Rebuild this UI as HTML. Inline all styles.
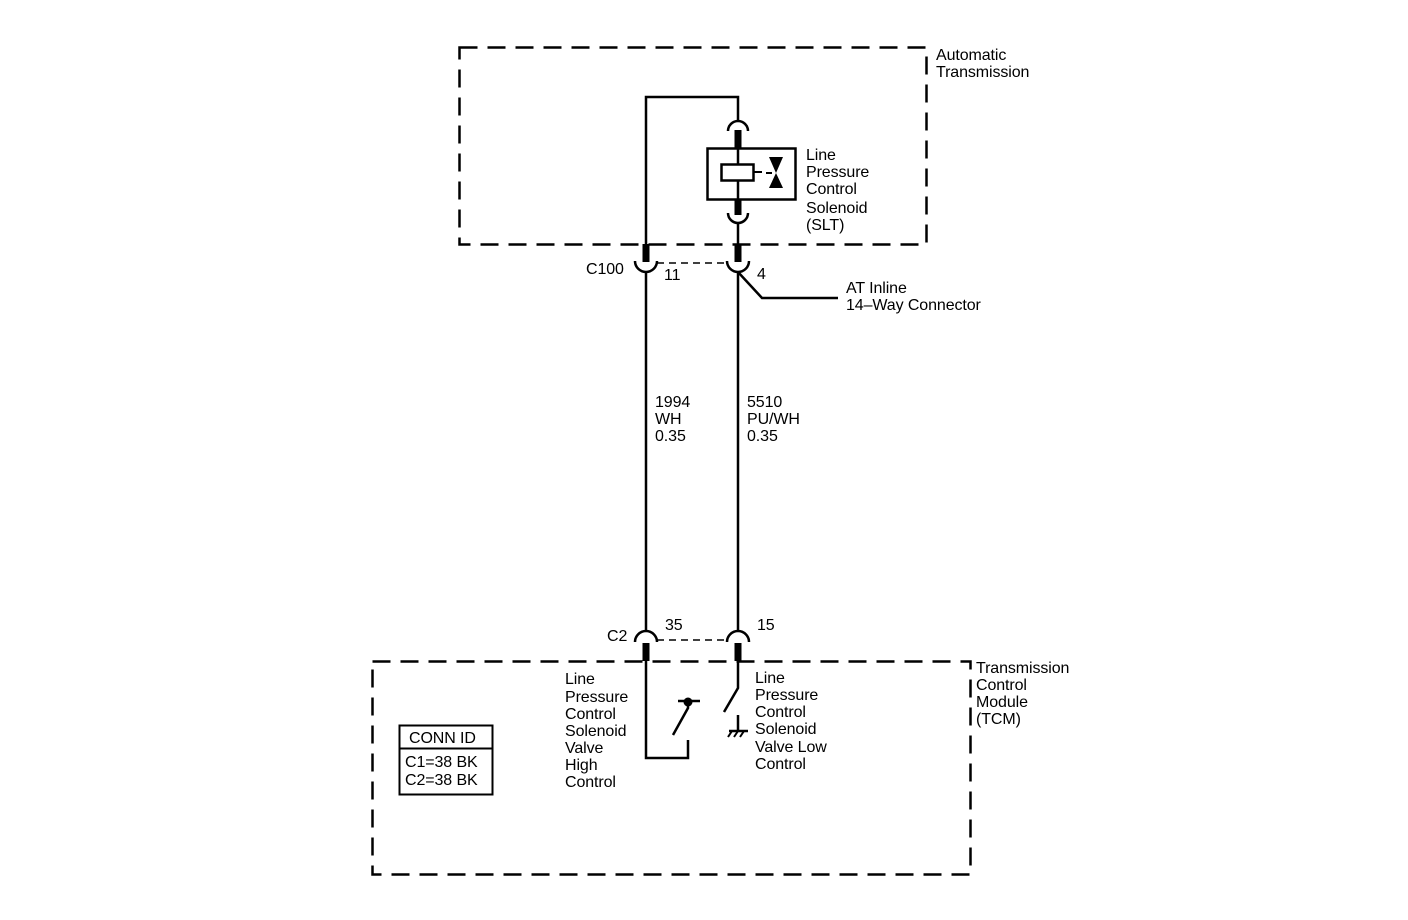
<!DOCTYPE html>
<html><head><meta charset="utf-8"><style>
html,body{margin:0;padding:0;background:#fff}
svg{display:block}
text{font-family:"Liberation Sans",Arial,sans-serif;font-size:16px;fill:#000;letter-spacing:-0.1px}
</style></head><body>
<svg width="1408" height="920" viewBox="0 0 1408 920" xmlns="http://www.w3.org/2000/svg">
<g fill="none" stroke="#000">
<rect x="459.5" y="47.5" width="467" height="197" stroke-width="2.5" stroke-dasharray="18,10"/>
<rect x="372.5" y="661.5" width="598" height="213" stroke-width="2.5" stroke-dasharray="18,10"/>
<path d="M646 262 V97 H738 V122" stroke-width="2.5"/>
<path d="M728 131 A10 10 0 0 1 748 131" stroke-width="2.5"/>
<line x1="738" y1="130" x2="738" y2="148" stroke-width="7"/>
<rect x="707.5" y="148.5" width="88" height="51" stroke-width="2.5"/>
<line x1="738" y1="148" x2="738" y2="199" stroke-width="2.5"/>
<rect x="721.5" y="164.5" width="32" height="16" stroke-width="2.5" fill="#fff"/>
<line x1="754" y1="172" x2="762" y2="172" stroke-width="2"/>
<line x1="766" y1="173" x2="772" y2="173" stroke-width="2"/>
<line x1="738" y1="199" x2="738" y2="215" stroke-width="7"/>
<path d="M728 213 A10 10 0 0 0 748 213" stroke-width="2.5"/>
<line x1="738" y1="223" x2="738" y2="244" stroke-width="2.5"/>
<line x1="646" y1="244" x2="646" y2="262" stroke-width="7"/>
<line x1="738" y1="244" x2="738" y2="262" stroke-width="7"/>
<path d="M635 261 A11 11 0 0 0 657 261" stroke-width="2.5"/>
<path d="M727 261 A11 11 0 0 0 749 261" stroke-width="2.5"/>
<line x1="657" y1="263" x2="727" y2="263" stroke-width="1.5" stroke-dasharray="7,5"/>
<line x1="646" y1="272" x2="646" y2="632" stroke-width="2.5"/>
<line x1="738" y1="272" x2="738" y2="632" stroke-width="2.5"/>
<path d="M738 272 L762 298 H838" stroke-width="2.5"/>
<path d="M635 642 A11 11 0 0 1 657 642" stroke-width="2.5"/>
<path d="M727 642 A11 11 0 0 1 749 642" stroke-width="2.5"/>
<line x1="657" y1="640" x2="727" y2="640" stroke-width="1.5" stroke-dasharray="7,5"/>
<line x1="646" y1="643" x2="646" y2="661" stroke-width="7"/>
<line x1="738" y1="643" x2="738" y2="661" stroke-width="7"/>
<path d="M646 661 V758 H688 V740" stroke-width="2.5"/>
<path d="M673 735 L688 708 V701" stroke-width="2.5"/>
<line x1="678" y1="701" x2="700" y2="701" stroke-width="2.5"/>
<path d="M738 661 V688 L724 712" stroke-width="2.5"/>
<line x1="738" y1="715" x2="738" y2="731" stroke-width="2.5"/>
<line x1="729" y1="731" x2="748" y2="731" stroke-width="2.5"/>
<path d="M732 731 L728 737 M738 731 L734 737 M744 731 L740 737" stroke-width="2"/>
<rect x="399.5" y="725.5" width="93" height="69" stroke-width="2"/>
<line x1="399" y1="748.5" x2="492" y2="748.5" stroke-width="2"/>
</g>
<polygon points="769,157 783,157 776,173" fill="#000"/>
<polygon points="769,188 783,188 776,173" fill="#000"/>
<circle cx="688" cy="702" r="4.5" fill="#000"/>
<text x="936" y="60">Automatic</text>
<text x="936" y="77">Transmission</text>
<text x="806" y="160">Line</text>
<text x="806" y="177">Pressure</text>
<text x="806" y="194">Control</text>
<text x="806" y="213">Solenoid</text>
<text x="806" y="230">(SLT)</text>
<text x="586" y="274">C100</text>
<text x="664" y="280">11</text>
<text x="757" y="279">4</text>
<text x="846" y="293">AT Inline</text>
<text x="846" y="310">14–Way Connector</text>
<text x="655" y="407">1994</text>
<text x="655" y="424">WH</text>
<text x="655" y="441">0.35</text>
<text x="747" y="407">5510</text>
<text x="747" y="424">PU/WH</text>
<text x="747" y="441">0.35</text>
<text x="607" y="641">C2</text>
<text x="665" y="630">35</text>
<text x="757" y="630">15</text>
<text x="976" y="673">Transmission</text>
<text x="976" y="690">Control</text>
<text x="976" y="707">Module</text>
<text x="976" y="724">(TCM)</text>
<text x="565" y="684">Line</text>
<text x="565" y="702">Pressure</text>
<text x="565" y="719">Control</text>
<text x="565" y="736">Solenoid</text>
<text x="565" y="753">Valve</text>
<text x="565" y="770">High</text>
<text x="565" y="787">Control</text>
<text x="755" y="683">Line</text>
<text x="755" y="700">Pressure</text>
<text x="755" y="717">Control</text>
<text x="755" y="734">Solenoid</text>
<text x="755" y="752">Valve Low</text>
<text x="755" y="769">Control</text>
<text x="409" y="743">CONN ID</text>
<text x="405" y="767">C1=38 BK</text>
<text x="405" y="785">C2=38 BK</text>
</svg>
</body></html>
